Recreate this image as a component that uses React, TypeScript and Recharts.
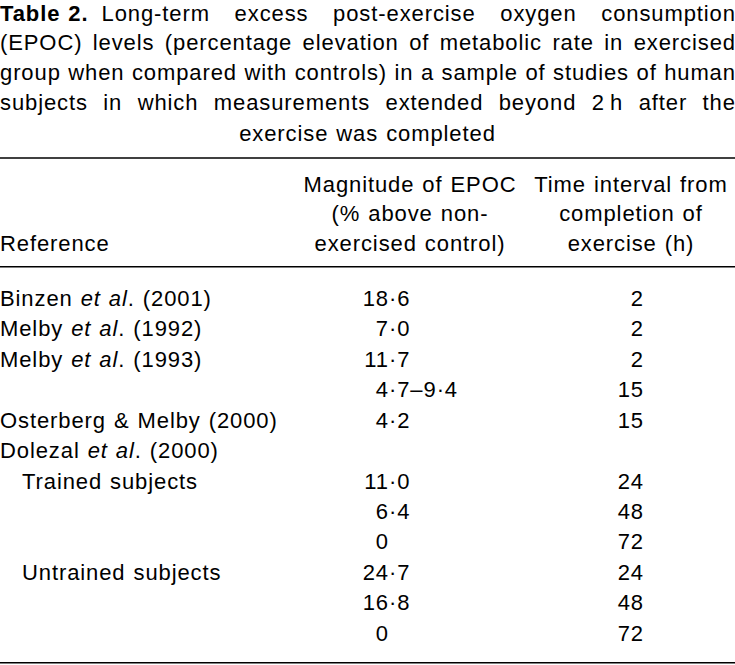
import React from 'react';
import { ScatterChart, Scatter, XAxis, YAxis, Customized } from 'recharts';

// ---- table content ----
const titleLines = [
  'Long-term excess post-exercise oxygen consumption',
  '(EPOC) levels (percentage elevation of metabolic rate in exercised',
  'group when compared with controls) in a sample of studies of human',
  'subjects in which measurements extended beyond 2\u2009h after the',
  'exercise was completed',
];
const titleLabel = 'Table 2.';
const headerReference = ['Reference'];
const headerMagnitude = ['Magnitude of EPOC', '(% above non-', 'exercised control)'];
const headerTime = ['Time interval from', 'completion of', 'exercise (h)'];

const referenceAuthors = ['Binzen', 'Melby', 'Melby', '', 'Osterberg & Melby', 'Dolezal', 'Trained subjects', '', '', 'Untrained subjects', '', ''];
const referenceEtAl = [true, true, true, false, false, true, false, false, false, false, false, false];
const referenceYears = ['(2001)', '(1992)', '(1993)', '', '(2000)', '(2000)', '', '', '', '', '', ''];
const referenceLevel = [0, 0, 0, 0, 0, 0, 1, 1, 1, 1, 1, 1];
const magnitudes = ['18·6', '7·0', '11·7', '4·7–9·4', '4·2', '', '11·0', '6·4', '0', '24·7', '16·8', '0'];
const timeIntervals = ['2', '2', '2', '15', '15', '', '24', '48', '72', '24', '48', '72'];

// ---- layout ----
const W = 735;
const H = 665;
const FONT = "'Liberation Sans', Arial, sans-serif";
const FS = 22;
const LS = 0.9;
const WS = 1;
const FIRST_ROW_BASE = 305.7;
const LAST_ROW_BASE = 640.9;
const REF_X = 0;
const INDENT = 22;
const MAG_X = 389;
const TIME_X = 644;
const MAG_HEAD_CX = 410;
const TIME_HEAD_CX = 631;
const TITLE_BASES = [20.7, 50.4, 80.1, 109.8, 140.5];
const HEAD_BASES = [191.6, 221.3, 251];
const RULES = [158, 266.7, 662.7];

const rows = referenceAuthors.map((a, i) => ({
  row: i,
  author: a,
  etal: referenceEtAl[i],
  year: referenceYears[i],
  level: referenceLevel[i],
  mag: magnitudes[i],
  time: timeIntervals[i],
}));
const refData = rows.map((r) => ({ ...r, x: REF_X }));
const magData = rows.map((r) => ({ ...r, x: MAG_X }));
const timeData = rows.map((r) => ({ ...r, x: TIME_X }));

let ctx: CanvasRenderingContext2D | null = null;
function measure(text: string, bold = false) {
  if (!ctx) {
    const c = document.createElement('canvas');
    ctx = c.getContext('2d');
  }
  if (!ctx) return text.length * FS * 0.5;
  ctx.font = `${bold ? 'bold ' : ''}${FS}px ${FONT}`;
  return ctx.measureText(text).width + LS * (text.length - 1);
}

const textProps = { fontFamily: FONT, fontSize: FS, fill: '#000', letterSpacing: LS, wordSpacing: WS };

const RefShape = (props: any) => {
  const { cx, cy, payload } = props;
  if (!payload.author) return <g />;
  const x = cx + payload.level * INDENT;
  return (
    <text x={x} y={cy} {...textProps} textAnchor="start">
      <tspan>{payload.author}</tspan>
      {payload.etal ? (
        <>
          <tspan> </tspan>
          <tspan fontStyle="italic">et al</tspan>
          <tspan>.</tspan>
        </>
      ) : null}
      {payload.year ? <tspan>{' ' + payload.year}</tspan> : null}
    </text>
  );
};

const MagShape = (props: any) => {
  const { cx, cy, payload } = props;
  if (!payload.mag) return <g />;
  const idx = payload.mag.indexOf('·');
  const intPart = idx >= 0 ? payload.mag.slice(0, idx) : payload.mag;
  const rest = idx >= 0 ? payload.mag.slice(idx) : '';
  return (
    <g>
      <text x={cx} y={cy} {...textProps} textAnchor="end">{intPart}</text>
      {rest ? <text x={cx} y={cy} {...textProps} textAnchor="start">{rest}</text> : null}
    </g>
  );
};

const TimeShape = (props: any) => {
  const { cx, cy, payload } = props;
  if (!payload.time) return <g />;
  return (
    <text x={cx} y={cy} {...textProps} textAnchor="end">{payload.time}</text>
  );
};

const TableFrame = () => {
  const els: React.ReactNode[] = [];
  titleLines.forEach((line, li) => {
    const y = TITLE_BASES[li];
    if (li === titleLines.length - 1) {
      els.push(
        <text key={`t${li}`} x={W / 2} y={y} {...textProps} textAnchor="middle">{line}</text>
      );
      return;
    }
    let startX = 0;
    if (li === 0) {
      els.push(
        <text key="tl" x={0} y={y} {...textProps} fontWeight="bold">{titleLabel}</text>
      );
      startX = measure(titleLabel, true) + 15;
    }
    const words = line.split(' ');
    const widths = words.map((w) => measure(w));
    const total = widths.reduce((a, b) => a + b, 0);
    const gap = words.length > 1 ? (W - startX - total) / (words.length - 1) : 0;
    let x = startX;
    words.forEach((w, wi) => {
      els.push(
        <text key={`t${li}-${wi}`} x={x} y={y} {...textProps}>{w}</text>
      );
      x += widths[wi] + gap;
    });
  });
  headerReference.forEach((h, i) => {
    els.push(
      <text key={`hr${i}`} x={REF_X} y={HEAD_BASES[HEAD_BASES.length - 1]} {...textProps}>{h}</text>
    );
  });
  headerMagnitude.forEach((h, i) => {
    els.push(
      <text key={`hm${i}`} x={MAG_HEAD_CX} y={HEAD_BASES[i]} {...textProps} textAnchor="middle">{h}</text>
    );
  });
  headerTime.forEach((h, i) => {
    els.push(
      <text key={`ht${i}`} x={TIME_HEAD_CX} y={HEAD_BASES[i]} {...textProps} textAnchor="middle">{h}</text>
    );
  });
  RULES.forEach((y, i) => {
    els.push(<line key={`r${i}`} x1={0} x2={W} y1={y} y2={y} stroke="#000" strokeWidth={1.4} />);
  });
  return <g>{els}</g>;
};

export default function App() {
  return (
    <div style={{ position: 'absolute', left: 0, top: 0, width: W, height: H, background: '#fff' }}>
      <ScatterChart
        width={W}
        height={H}
        margin={{ top: FIRST_ROW_BASE, right: 0, bottom: H - LAST_ROW_BASE, left: 0 }}
      >
        <XAxis type="number" dataKey="x" domain={[0, W]} hide />
        <YAxis type="number" dataKey="row" domain={[0, rows.length - 1]} reversed hide tickCount={rows.length} allowDecimals={false} />
        <Scatter data={refData} shape={RefShape} isAnimationActive={false} />
        <Scatter data={magData} shape={MagShape} isAnimationActive={false} />
        <Scatter data={timeData} shape={TimeShape} isAnimationActive={false} />
        <Customized component={TableFrame} />
      </ScatterChart>
    </div>
  );
}
